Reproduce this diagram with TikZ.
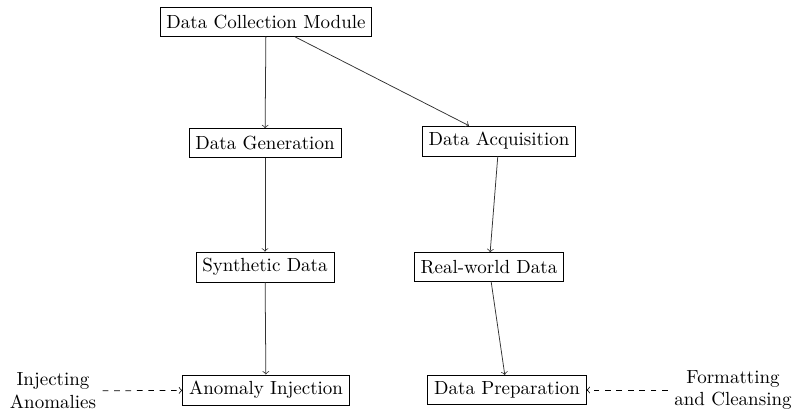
\documentclass[tikz,border=0pt]{standalone}
\begin{document}
\begin{tikzpicture}[x=1cm/54, y=-1cm/54,
  box/.style={draw, rectangle, minimum height=0.53cm},
  lbl/.style={align=center},
  conn/.style={->, draw=black!80},
  dconn/.style={->, dashed}]
\useasboundingbox (0,0) rectangle (792,416);
\node[box] (dcm) at (266,22) {Data Collection Module};
\node[box] (gen) at (265,143) {Data Generation};
\node[box] (acq) at (499,141) {Data Acquisition};
\node[box] (syn) at (265,267) {Synthetic Data};
\node[box] (real) at (489,267) {Real-world Data};
\node[box] (anom) at (266,390) {Anomaly Injection};
\node[box] (prep) at (507,390) {Data Preparation};
\node[lbl] (inj) at (53,391) {Injecting\\Anomalies};
\node[lbl] (fmt) at (733,390) {Formatting\\and Cleansing};
\draw[conn] (dcm) -- (gen);
\draw[conn] (dcm) -- (acq);
\draw[conn] (gen) -- (syn);
\draw[conn] (acq) -- (real);
\draw[conn] (syn) -- (anom);
\draw[conn] (real) -- (prep);
\draw[dconn] (inj) -- (anom);
\draw[dconn] (fmt) -- (prep);
\end{tikzpicture}
\end{document}
